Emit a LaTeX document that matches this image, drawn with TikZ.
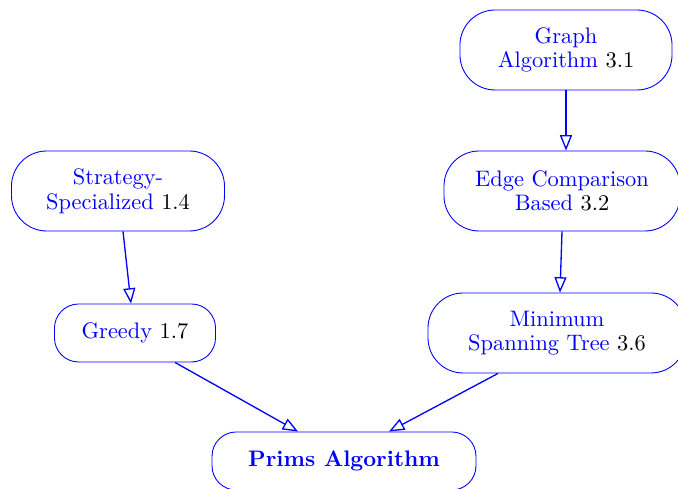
\documentclass[tikz,border=0pt]{standalone}
\usetikzlibrary{arrows.meta,calc}
\tikzset{
  topic/.style={draw=blue, text=blue, align=center, inner sep=0pt,
    rounded corners=16pt, minimum height=36.4pt,
    font=\fontsize{10.2}{11.2}\selectfont},
  single/.style={topic, rounded corners=11pt, minimum height=26.4pt},
  link/.style={draw=blue, line width=0.6pt,
    -{Triangle[open,length=7pt,width=5.5pt]}}
}
\newcommand{\secnum}[1]{\textcolor{black}{#1}}
\begin{document}
\begin{tikzpicture}[x=0.455pt,y=-0.455pt]
  \useasboundingbox (0,0) rectangle (678,489);
  \node[topic, minimum width=96.5pt] (graph) at (566,50)
    {Graph\\Algorithm \secnum{3.1}};
  \node[topic, minimum width=107.4pt] (edge) at (562,191)
    {Edge Comparison\\Based \secnum{3.2}};
  \node[topic, minimum width=117.4pt] (mst) at (557,333)
    {Minimum\\Spanning Tree \secnum{3.6}};
  \node[topic, minimum width=96.9pt] (strat) at (118,191)
    {Strategy-\\Specialized \secnum{1.4}};
  \node[single, minimum width=73.3pt] (greedy) at (135,333)
    {Greedy \secnum{1.7}};
  \node[single, minimum width=120.1pt] (prims) at (344,461)
    {\textbf{Prims Algorithm}};

  \draw[link] (graph.south) -- (graph.south |- edge.north);
  \draw[link] (edge.south) -- ($(mst.north)+(3,0)$);
  \draw[link] ($(strat.south)+(5,0)$) -- ($(greedy.north)+(-4,0)$);
  \draw[link] ($(greedy.south)+(40,0)$) -- ($(prims.north)+(-46,0)$);
  \draw[link] ($(mst.south)+(-59,0)$) -- ($(prims.north)+(45,0)$);
\end{tikzpicture}
\end{document}
